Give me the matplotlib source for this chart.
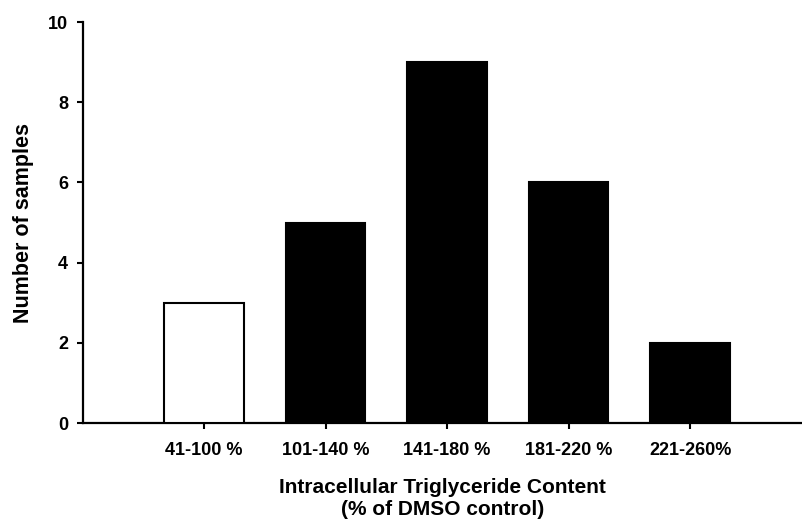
import matplotlib.pyplot as plt

plt.rcParams['font.family'] = ['Liberation Sans', 'DejaVu Sans']
plt.rcParams['font.weight'] = 'bold'

categories = ['41-100 %', '101-140 %', '141-180 %', '181-220 %', '221-260%']
counts = [3, 5, 9, 6, 2]
fill_colors = ['white', 'black', 'black', 'black', 'black']

fig = plt.figure(figsize=(8.02, 5.23), dpi=100)
ax = fig.add_axes([0.1029, 0.1912, 0.8971, 0.7667])

positions = list(range(1, len(categories) + 1))
ax.bar(positions, counts, width=0.655, color=fill_colors,
       edgecolor='black', linewidth=1.5, zorder=3)

ax.set_xlim(0, 5.92)
ax.set_ylim(0, 10)
ax.set_yticks([0, 2, 4, 6, 8, 10])
ax.set_xticks(positions)
ax.set_xticklabels(categories)

for side in ['top', 'right']:
    ax.spines[side].set_visible(False)
for side in ['left', 'bottom']:
    ax.spines[side].set_linewidth(1.6)

ax.tick_params(axis='both', direction='out', length=4.5, width=1.5,
               labelsize=13)
ax.tick_params(axis='x', pad=9)
ax.tick_params(axis='y', pad=6)
for lbl in ax.get_xticklabels() + ax.get_yticklabels():
    lbl.set_fontweight('bold')

ax.set_xlabel('Intracellular Triglyceride Content\n(% of DMSO control)',
              fontsize=15, fontweight='bold', labelpad=14, linespacing=1.2)
ax.set_ylabel('Number of samples', fontsize=15.5, fontweight='bold', labelpad=10)

fig.savefig('out.png', dpi=100)
